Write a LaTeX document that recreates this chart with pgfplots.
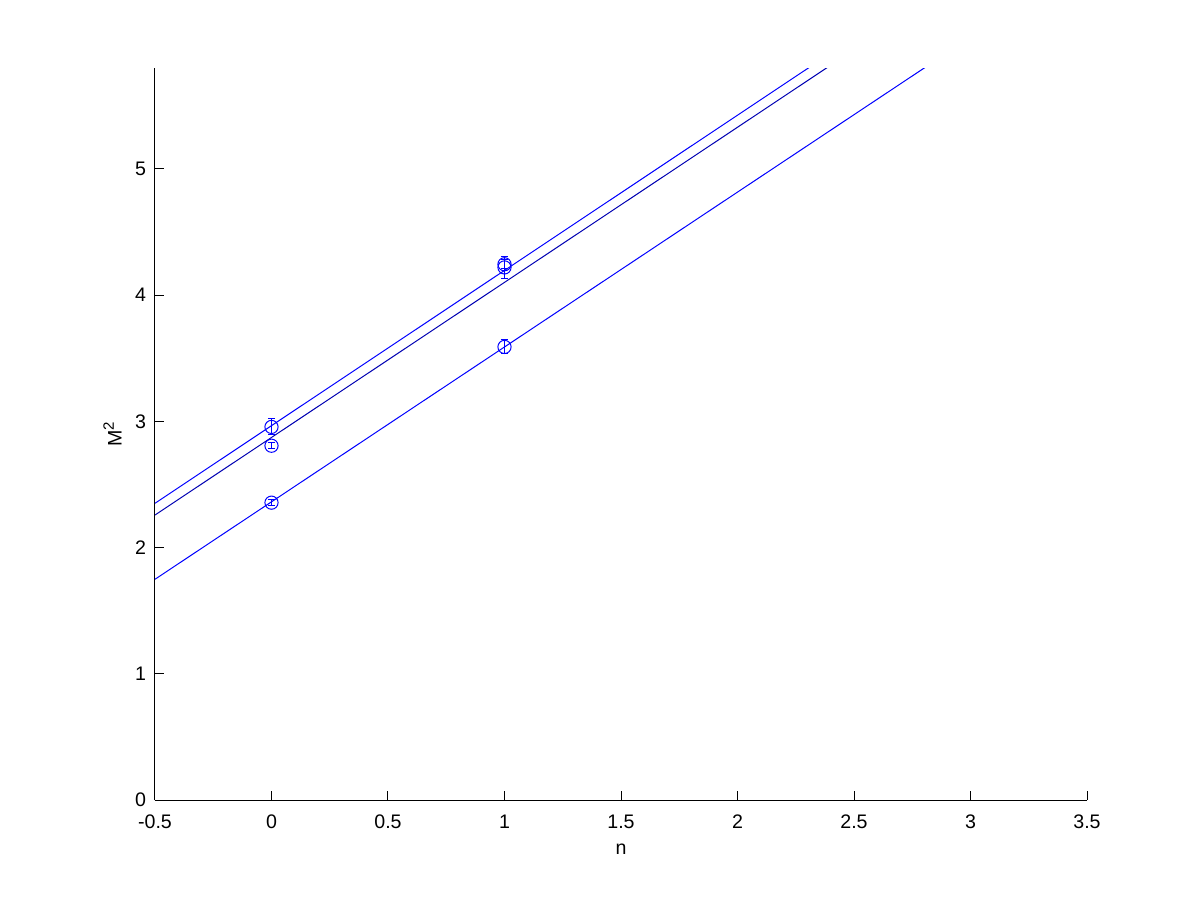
\documentclass[border=0pt]{standalone}
\usepackage{fontspec}
\setmainfont{Liberation Sans}
\usepackage{pgfplots}
\pgfplotsset{compat=1.18}
\begin{document}
\fontsize{9.8}{11}\selectfont
\begin{tikzpicture}
\path[use as bounding box] (-77.5pt,-50pt) rectangle (522.5pt,400pt);
\begin{axis}[
  at={(0,0)}, anchor=south west,
  scale only axis, width=466pt, height=366pt,
  xmin=-0.5, xmax=3.5, ymin=0, ymax=5.8,
  axis x line=bottom, axis y line=left,
  axis line style={-, black, line width=0.5pt},
  tick align=inside, major tick length=4.5pt,
  tick style={black, line width=0.5pt},
  xtick={-0.5,0,0.5,1,1.5,2,2.5,3,3.5},
  xticklabels={-0.5,0,0.5,1,1.5,2,2.5,3,3.5},
  ytick={0,1,2,3,4,5},
  /pgf/number format/assume math mode=true,
  xticklabel style={font=\fontsize{9.8}{11}\selectfont, yshift=-4pt},
  yticklabel style={font=\fontsize{9.8}{11}\selectfont, xshift=-1pt},
  xlabel={n}, ylabel={M\raisebox{0.75ex}{\fontsize{7.5}{8}\selectfont 2}},
  label style={font=\fontsize{9.8}{11}\selectfont},
  xlabel style={yshift=-1pt},
  ylabel style={yshift=0pt},
  clip=true,
]
% fitted lines
\addplot[blue, line width=0.5pt] coordinates {(-0.5,2.351) (3.5,7.271)};
\addplot[blue!70!black, line width=0.5pt] coordinates {(-0.5,2.258) (3.5,7.174)};
\addplot[blue, line width=0.5pt] coordinates {(-0.5,1.749) (3.5,6.657)};
% data points with error bars
\addplot[blue, only marks, mark=o, mark size=3.3pt, mark options={line width=0.5pt},
  error bars/.cd, y dir=both, y explicit,
  error bar style={line width=0.5pt, blue},
  error mark options={rotate=90, mark size=1.8pt, line width=0.5pt, blue}]
  coordinates {
    (0,2.956) +- (0,0.063)
    (0,2.807) +- (0,0.024)
    (0,2.356) +- (0,0.022)
    (1,4.220) +- (0,0.090)
    (1,4.245) +- (0,0.035)
    (1,3.590) +- (0,0.055)
  };
\end{axis}
\end{tikzpicture}
\end{document}
